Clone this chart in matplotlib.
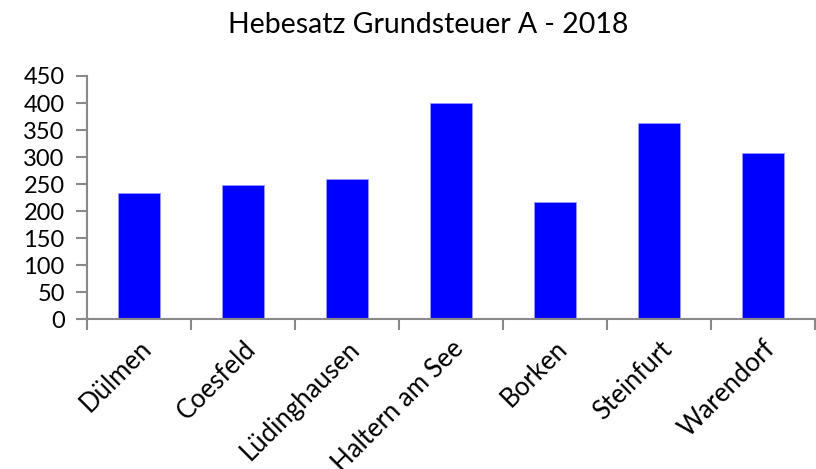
import numpy as np
import matplotlib.pyplot as plt

# Hebesatz Grundsteuer A, 2018
orte = ["Dülmen", "Coesfeld", "Lüdinghausen", "Haltern am See", "Borken", "Steinfurt", "Warendorf"]
hebesatz = [233, 249, 260, 400, 217, 363, 307]
yticks = [0, 50, 100, 150, 200, 250, 300, 350, 400, 450]

plt.rcParams['font.family'] = ['Lato', 'DejaVu Sans']

fig = plt.figure(figsize=(8.16, 4.69), dpi=100)
ax = fig.add_axes([0.1066, 0.319, 0.892, 0.519])

x = np.arange(len(orte))
ax.bar(x, hebesatz, width=0.4, color="#0000ff", edgecolor="#9999ff", linewidth=0.6)

ax.set_xlim(-0.5, len(orte) - 0.5)
ax.set_ylim(0, 450)
ax.set_yticks(yticks)
ax.set_yticklabels([str(v) for v in yticks], fontsize=17)

ax.set_xticks(x)
ax.set_xticklabels(orte, rotation=45, ha="right", rotation_mode="anchor", fontsize=18.5)
ax.set_xticks(np.arange(-0.5, len(orte), 1.0), minor=True)
ax.tick_params(axis="x", which="major", length=0, pad=12)
ax.tick_params(axis="x", which="minor", length=8, width=1.5, color="#898989", direction="out")
ax.tick_params(axis="y", length=8, width=1.5, color="#898989", pad=8)

for s in ["top", "right"]:
    ax.spines[s].set_visible(False)
for s in ["left", "bottom"]:
    ax.spines[s].set_color("#898989")
    ax.spines[s].set_linewidth(1.5)

fig.text(0.525, 0.947, "Hebesatz Grundsteuer A - 2018", ha="center", va="center", fontsize=20.5)

fig.savefig("out.png", dpi=100)
